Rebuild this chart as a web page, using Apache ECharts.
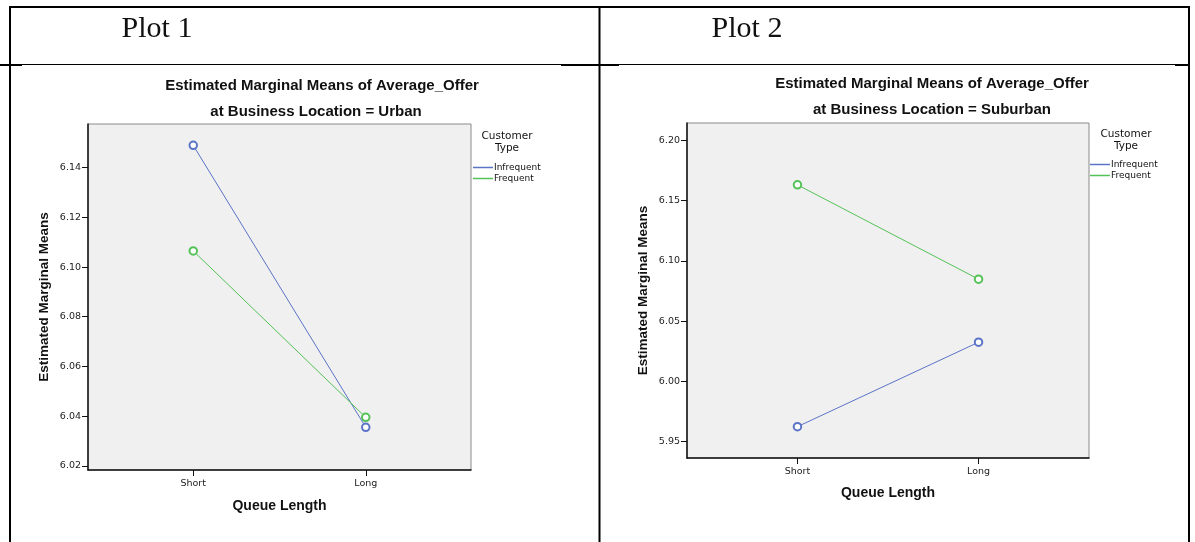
<!DOCTYPE html>
<html>
<head>
<meta charset="utf-8">
<script src="https://cdn.jsdelivr.net/npm/echarts@6/dist/echarts.min.js"></script>
<style>
  html, body { margin: 0; padding: 0; background: #ffffff; }
  #chart { width: 1195px; height: 542px; }
</style>
</head>
<body>
<div id="chart"></div>
<script>
// Queue length levels on the horizontal axis
const categories = ['Short', 'Long'];

// Estimated marginal means of Average_Offer, Urban location
const urbanInfrequent = [6.149, 6.0355];
const urbanFrequent = [6.1065, 6.0395];

// Estimated marginal means of Average_Offer, Suburban location
const suburbanInfrequent = [5.9625, 6.0325];
const suburbanFrequent = [6.163, 6.0848];

// Tick values on the vertical axes
const urbanTicks = [6.02, 6.04, 6.06, 6.08, 6.10, 6.12, 6.14];
const suburbanTicks = [5.95, 6.00, 6.05, 6.10, 6.15, 6.20];

const seriesNames = ['Infrequent', 'Frequent'];
const colors = ['#5b74c6', '#55c258'];

const SANS = '"Liberation Sans", Arial, sans-serif';
const SMALL = '"DejaVu Sans", Verdana, sans-serif';

// category index 1, 2 placed on a value axis
const toPoints = vals => vals.map((v, i) => [i + 1, v]);

function xAxisFor(gridIndex, gap) {
  return {
    type: 'value', gridIndex, min: 0.39, max: 2.61,
    name: 'Queue Length', nameLocation: 'middle', nameGap: gap,
    nameTextStyle: { fontFamily: SANS, fontWeight: 'bold', fontSize: 14, color: '#111' },
    axisLine: { show: true, lineStyle: { color: '#111', width: 1.5 } },
    axisTick: { show: true, customValues: [1, 2], length: 6, lineStyle: { color: '#111' } },
    axisLabel: {
      customValues: [1, 2], margin: 9,
      formatter: v => categories[Math.round(v) - 1],
      fontFamily: SMALL, fontSize: 9.5, color: '#222'
    },
    splitLine: { show: false }
  };
}

function yAxisFor(gridIndex, min, max, ticks) {
  return {
    type: 'value', gridIndex, min, max,
    name: 'Estimated Marginal Means', nameLocation: 'middle', nameGap: 37,
    nameTextStyle: { fontFamily: SANS, fontWeight: 'bold', fontSize: 13.5, color: '#111' },
    axisLine: { show: true, lineStyle: { color: '#111', width: 1.5 } },
    axisTick: { show: true, customValues: ticks, length: 6, lineStyle: { color: '#111' } },
    axisLabel: {
      customValues: ticks, margin: 7,
      formatter: v => v.toFixed(2),
      fontFamily: SMALL, fontSize: 9.5, color: '#222'
    },
    splitLine: { show: false }
  };
}

function lineSeries(name, values, idx, axisIndex) {
  return {
    name, type: 'line', xAxisIndex: axisIndex, yAxisIndex: axisIndex,
    data: toPoints(values),
    symbol: 'emptyCircle', symbolSize: 7.5,
    lineStyle: { color: colors[idx], width: 1 },
    itemStyle: { color: colors[idx], borderColor: colors[idx], borderWidth: 0.9 },
    emphasis: { disabled: true },
    animation: false
  };
}

function legendFor(left, top) {
  return {
    left, top, orient: 'vertical', data: seriesNames,
    icon: 'rect', itemWidth: 20, itemHeight: 1.5, itemGap: 2,
    itemStyle: { borderWidth: 0 },
    textStyle: { fontFamily: SMALL, fontSize: 9, color: '#111', padding: [0, 0, 0, -4] },
    selectedMode: false, padding: 0
  };
}

const txt = (text, x, y, font, extra) => ({
  type: 'text', x, y, silent: true,
  style: Object.assign({ text, font, fill: '#111', align: 'center', verticalAlign: 'middle' }, extra || {})
});
const line = (x1, y1, x2, y2, w) => ({
  type: 'line', silent: true,
  shape: { x1, y1, x2, y2 }, style: { stroke: '#000', lineWidth: w }
});

const chart = echarts.init(document.getElementById('chart'), null, { renderer: 'canvas' });

chart.setOption({
  backgroundColor: '#ffffff',
  animation: false,
  grid: [
    { left: 88, top: 124, width: 383, height: 346, show: true, backgroundColor: '#f0f0f0', borderColor: '#8a8a8a', borderWidth: 1 },
    { left: 687, top: 123, width: 402, height: 335, show: true, backgroundColor: '#f0f0f0', borderColor: '#8a8a8a', borderWidth: 1 }
  ],
  xAxis: [xAxisFor(0, 29), xAxisFor(1, 28)],
  yAxis: [
    yAxisFor(0, 6.0183, 6.1576, urbanTicks),
    yAxisFor(1, 5.9365, 6.2143, suburbanTicks)
  ],
  legend: [legendFor(473, 163), legendFor(1090, 160)],
  series: [
    lineSeries(seriesNames[0], urbanInfrequent, 0, 0),
    lineSeries(seriesNames[1], urbanFrequent, 1, 0),
    lineSeries(seriesNames[0], suburbanInfrequent, 0, 1),
    lineSeries(seriesNames[1], suburbanFrequent, 1, 1)
  ],
  graphic: [
    // table frame around the two panels
    line(10, 7, 1190, 7, 2),
    line(10, 6, 10, 542, 2),
    line(599.5, 6, 599.5, 542, 2),
    line(1189, 6, 1189, 542, 2),
    line(10, 64.5, 1190, 64.5, 1),
    line(0, 65, 22, 65, 2),
    line(561, 65, 619, 65, 2),
    line(1175, 65, 1190, 65, 2),
    // panel headings
    txt('Plot 1', 157, 29, '30px "Liberation Serif", "Times New Roman", serif'),
    txt('Plot 2', 747, 29, '30px "Liberation Serif", "Times New Roman", serif'),
    // chart titles
    txt('Estimated Marginal Means of Average_Offer', 322, 86, 'bold 15px ' + SANS),
    txt('at Business Location = Urban', 316, 112, 'bold 15px ' + SANS),
    txt('Estimated Marginal Means of Average_Offer', 932, 84, 'bold 15px ' + SANS),
    txt('at Business Location = Suburban', 932, 110, 'bold 15px ' + SANS),
    // legend titles
    txt('Customer', 507, 136, '10.5px ' + SMALL),
    txt('Type', 507, 148, '10.5px ' + SMALL),
    txt('Customer', 1126, 134, '10.5px ' + SMALL),
    txt('Type', 1126, 146, '10.5px ' + SMALL)
  ]
});
</script>
</body>
</html>
